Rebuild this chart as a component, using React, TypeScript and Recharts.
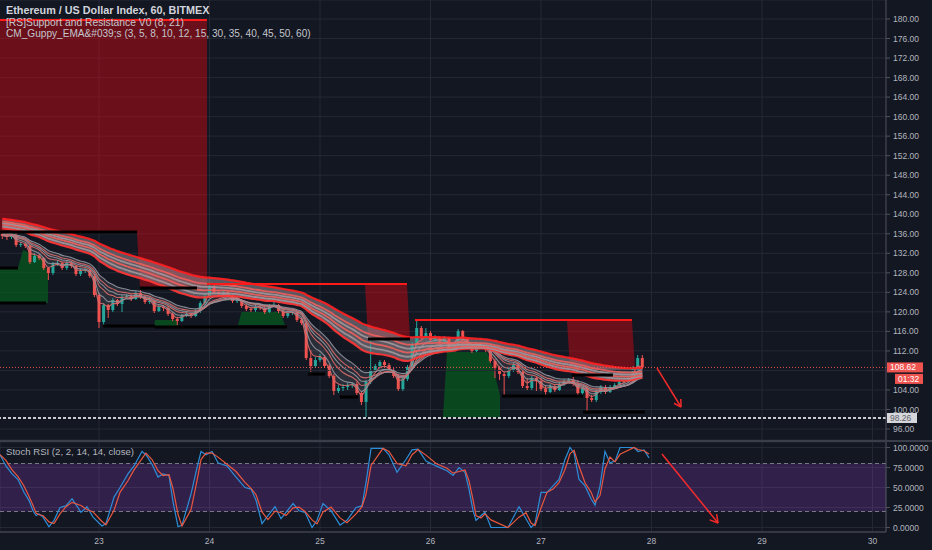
import React from 'react';
import {
  ComposedChart,
  Bar,
  Line,
  Area,
  XAxis,
  YAxis,
  CartesianGrid,
  ReferenceLine,
  ReferenceArea,
} from 'recharts';

const BG = '#131722';
const GRID = '#252935';
const AXIS = '#50535e';
const AXIS_TEXT = '#b2b5be';
const FONT = "'Liberation Sans', Arial, sans-serif";
const UP = '#26a69a';
const DOWN = '#ef5350';

// hourly candles, first one at day 22 03:00
const candleStart = 22.125;
const firstOpen = 135.95;

const closes = [
  135.54, 135.33, 135.74, 133.69, 133.9, 133.49, 130.21, 131.44, 131.03, 128.98,
  127.96, 129.8, 130.01, 128.98, 130.01, 129.39, 127.75, 128.37, 128.57, 127.34,
  123.45, 117.92, 121.4, 120.38, 122.43, 121.61, 123.04, 123.24, 122.63, 123.86,
  123.04, 122.02, 122.22, 120.17, 120.99, 120.79, 119.56, 118.53, 118.12, 119.15,
  119.56, 119.15, 120.17, 121.81, 123.24, 125.29, 124.06, 123.65, 124.06, 123.45,
  122.22, 122.43, 121.2, 120.58, 120.38, 120.99, 120.79, 119.97, 121.2, 121.4,
  120.17, 119.15, 119.76, 119.97, 118.33, 117.71, 110.54, 108.9, 110.13, 110.75,
  108.9, 106.85, 103.78, 104.4, 104.6, 105.01, 105.22, 103.37, 101.53, 105.63,
  108.08, 108.9, 109.72, 109.11, 108.08, 106.85, 104.19, 106.24, 108.7, 113.41,
  116.69, 114.85, 115.66, 114.23, 114.64, 113.82, 114.64, 112.39, 113.41, 116.07,
  114.44, 113.0, 111.98, 113.0, 112.8, 112.18, 109.93, 108.49, 107.26, 106.85,
  108.08, 109.11, 107.67, 104.81, 104.4, 106.45, 105.83, 104.19, 103.58, 104.81,
  103.99, 105.22, 105.83, 106.04, 105.22, 103.37, 104.4, 102.35, 101.94, 103.58,
  104.6, 103.58, 104.6, 105.01, 105.63, 105.83, 106.45, 108.49, 110.54, 108.62,
];

const highs = [
  136.36, 135.95, 136.15, 136.15, 134.31, 134.1, 133.69, 132.06, 131.85, 131.24,
  129.19, 130.21, 130.62, 130.21, 130.42, 130.21, 129.6, 128.98, 128.98, 128.78,
  127.75, 123.86, 121.81, 121.61, 122.83, 122.63, 123.45, 123.65, 123.65, 124.27,
  124.47, 123.45, 122.83, 122.43, 121.4, 121.4, 121.2, 119.97, 118.94, 119.56,
  119.97, 119.76, 120.58, 122.22, 123.65, 125.91, 125.71, 124.47, 124.47, 124.27,
  123.65, 123.04, 122.63, 121.61, 120.99, 121.4, 121.4, 121.2, 121.61, 122.02,
  121.61, 120.58, 120.17, 120.38, 120.17, 118.74, 118.12, 112.18, 110.75, 111.36,
  111.16, 109.31, 107.26, 105.01, 105.22, 105.42, 105.63, 105.63, 103.78, 106.04,
  114.23, 109.31, 110.13, 110.13, 109.52, 108.49, 107.26, 106.65, 109.11, 113.82,
  118.33, 117.1, 116.69, 116.07, 115.25, 115.05, 115.05, 114.85, 113.82, 116.48,
  116.28, 114.85, 113.41, 113.41, 113.62, 113.2, 112.59, 110.34, 108.9, 107.67,
  108.49, 109.52, 109.52, 108.08, 106.45, 106.85, 106.65, 106.45, 105.01, 105.22,
  105.01, 105.63, 106.24, 106.45, 106.65, 106.04, 104.81, 104.81, 102.96, 103.99,
  105.01, 105.01, 105.01, 105.42, 106.04, 106.24, 106.85, 108.9, 111.16, 111.16,
];

const lows = [
  134.92, 134.72, 134.92, 133.28, 133.28, 133.08, 129.8, 130.01, 130.62, 128.57,
  126.52, 127.55, 129.39, 128.57, 128.57, 128.98, 127.34, 127.34, 127.96, 126.93,
  123.04, 116.69, 117.3, 118.74, 119.97, 121.2, 119.97, 122.63, 122.22, 122.43,
  122.63, 121.61, 121.61, 119.76, 119.97, 120.17, 119.15, 118.12, 117.3, 117.92,
  118.94, 118.74, 118.94, 119.76, 121.4, 122.83, 123.65, 123.24, 123.24, 123.04,
  121.81, 121.81, 120.79, 120.17, 119.97, 119.97, 120.38, 119.56, 119.76, 120.99,
  119.76, 118.74, 118.74, 119.35, 117.92, 117.3, 110.13, 107.67, 108.49, 109.72,
  108.49, 106.45, 102.96, 103.37, 103.78, 103.99, 104.4, 102.96, 100.91, 98.45,
  105.22, 107.67, 108.49, 108.7, 107.67, 106.45, 103.78, 103.78, 105.83, 108.29,
  113.0, 114.44, 114.44, 113.82, 113.82, 113.41, 113.41, 111.98, 112.18, 113.0,
  114.03, 112.59, 111.57, 111.77, 112.39, 111.77, 109.52, 106.45, 106.04, 102.96,
  106.45, 107.67, 107.26, 104.4, 103.99, 103.99, 103.78, 103.78, 102.76, 103.37,
  103.58, 103.78, 104.81, 105.42, 104.81, 102.96, 102.96, 99.48, 101.53, 101.53,
  103.17, 103.17, 103.37, 104.19, 104.6, 105.22, 105.42, 105.83, 108.08, 108.29,
];

// Guppy EMA periods and their values at the left edge of the chart
const emaPeriods = [3, 5, 8, 10, 12, 15, 30, 35, 40, 45, 50, 60];
const emaSeeds = [135.7, 135.8, 135.9, 136.0, 136.1, 136.3, 137.2, 137.6, 138.0, 138.3, 138.6, 139.2];
const emaColors = ['#d46a6a', '#8f939c', '#d46a6a', '#8f939c', '#d46a6a', '#8f939c',
  '#ff3535', '#a0959b', '#ea5f5c', '#a0959b', '#ea5f5c', '#ff2020'];

// support / resistance zones: [day, low, high]
const resistZoneA = [[22.104, 136.36, 179.79], [23.344, 136.36, 179.79], [23.371, 124.88, 179.79], [23.977, 124.88, 179.79]];
const resistZoneB = [[25.407, 125.71, 125.71], [25.434, 114.64, 125.71], [25.787, 114.64, 125.71], [25.814, 114.64, 114.64]];
const resistZoneC = [[27.235, 118.33, 118.33], [27.262, 108.3, 118.33], [27.823, 108.3, 118.33], [27.851, 108.3, 108.3]];
const supportZoneA = [[22.104, 121.81, 128.98], [22.267, 121.81, 128.98], [22.312, 121.81, 132.67], [22.493, 121.81, 131.03], [22.538, 121.81, 127.55]];
const supportZoneB = [[23.498, 116.89, 116.89], [23.507, 116.89, 118.33], [23.706, 116.89, 118.33], [23.715, 116.89, 116.89]];
const supportZoneC = [[24.258, 117.3, 117.3], [24.29, 117.3, 119.97], [24.638, 117.3, 119.97], [24.683, 117.3, 117.3]];
const supportZoneD = [[26.113, 98.45, 98.45], [26.149, 98.45, 111.77], [26.511, 98.45, 111.77], [26.566, 98.45, 108.5], [26.629, 98.45, 102.96]];

// level lines: [from day, to day, price]
const blackLevels = [
  [22.104, 23.344, 136.36], [22.104, 22.267, 128.98], [22.104, 22.52, 121.81],
  [23.371, 23.887, 124.88], [23.036, 23.507, 117.1], [23.507, 24.701, 116.89],
  [25.434, 25.814, 114.44], [24.891, 25.045, 107.26], [25.181, 25.344, 102.55],
  [26.647, 27.38, 102.76], [27.38, 27.941, 99.48], [27.28, 27.651, 107.06],
];
const redLevels = [[22.104, 23.977, 179.79], [23.977, 25.787, 125.71], [25.86, 27.823, 118.33]];

const lastPrice = 108.62;
const supportPrice = 98.26;
const countdown = '01:32';

// drawn arrows: [day, value] points, shaft start, tip, then two head strokes ending at the tip
const priceArrow = [[28.05, 108.49], [28.267, 100.51], [28.265, 102.14], [28.204, 101.28]];
const stochArrow = [[28.095, 91.9], [28.602, 5.6], [28.589, 16.75], [28.526, 9.6]];

// Stoch RSI %K read at [day, value]
const stochK = [
  [22.104, 91], [22.158, 77], [22.213, 67], [22.267, 60], [22.321, 44], [22.366, 34], [22.403, 21],
  [22.43, 15], [22.457, 17], [22.493, 13], [22.547, 1], [22.593, 9], [22.647, 25], [22.701, 27],
  [22.756, 36], [22.837, 19], [22.891, 26], [22.946, 13], [23.027, 2], [23.063, 5], [23.136, 38],
  [23.19, 50], [23.262, 67], [23.317, 77], [23.389, 95], [23.425, 91], [23.48, 79], [23.534, 63],
  [23.579, 67], [23.633, 65], [23.67, 32], [23.715, 1], [23.751, 3], [23.833, 42], [23.887, 75],
  [23.923, 95], [23.968, 91], [24.023, 95], [24.077, 81], [24.158, 77], [24.24, 63], [24.321, 50],
  [24.376, 48], [24.421, 34], [24.475, 5], [24.529, 15], [24.593, 26], [24.647, 11], [24.692, 19],
  [24.756, 30], [24.81, 21], [24.864, 19], [24.928, 0], [24.973, 9], [25.027, 30], [25.1, 21],
  [25.181, 3], [25.244, 9], [25.326, 25], [25.38, 27], [25.416, 56], [25.462, 99], [25.57, 99],
  [25.624, 91], [25.697, 69], [25.778, 85], [25.833, 97], [25.887, 98], [25.959, 83], [26.05, 77],
  [26.149, 71], [26.204, 65], [26.258, 75], [26.312, 69], [26.348, 48], [26.385, 21], [26.412, 9],
  [26.457, 15], [26.493, 19], [26.547, 0], [26.701, 0], [26.801, 26], [26.864, 11], [26.91, 0],
  [26.946, 5], [27.0, 44], [27.054, 44], [27.109, 52], [27.163, 60], [27.217, 85], [27.263, 100],
  [27.299, 93], [27.344, 60], [27.398, 52], [27.453, 36], [27.489, 28], [27.534, 52], [27.579, 95],
  [27.624, 81], [27.67, 83], [27.715, 100], [27.842, 100], [27.878, 95], [27.932, 97], [27.977, 87],
];

const dayTicks = [23, 24, 25, 26, 27, 28, 29, 30];
// 108 sits under the last-price tag, so only its grid line is drawn
const priceTicks = [96, 100, 104, 112, 116, 120, 124, 128, 132, 136, 140, 144, 148, 152, 156, 160, 164, 168, 172, 176, 180];
const hiddenPriceTick = 108;
const stochTicks = [0, 25, 50, 75, 100];
const X_DOMAIN = [22.104, 30.122];

const titleText = 'Ethereum / US Dollar Index, 60, BITMEX';
const srText = '[RS]Support and Resistance V0 (8, 21)';
const guppyText = 'CM_Guppy_EMA&#039;s (3, 5, 8, 10, 12, 15, 30, 35, 40, 45, 50, 60)';
const stochText = 'Stoch RSI (2, 2, 14, 14, close)';

const candles: any[] = closes.map((c, i) => ({
  t: candleStart + i / 24,
  o: i === 0 ? firstOpen : closes[i - 1],
  h: highs[i],
  l: lows[i],
  c,
  range: [lows[i], highs[i]],
}));

emaPeriods.forEach((n, k) => {
  const a = 2 / (n + 1);
  let v = emaSeeds[k];
  candles.forEach((row) => {
    v = v + a * (row.c - v);
    row['e' + n] = v;
  });
});

const stochRows = stochK.map(([t, k], i) => ({
  t,
  k,
  d: i === 0 ? k : (k + stochK[i - 1][1]) / 2,
}));

const toZone = (pts: number[][]) => pts.map(([t, lo, hi]) => ({ t, band: [lo, hi] }));

const Candle = (props: any) => {
  const { x, y, width, height, payload } = props;
  if (!payload || y == null || height == null) return null;
  const top = Math.min(y, y + height);
  const bottom = Math.max(y, y + height);
  const span = payload.h - payload.l || 1;
  const py = (v: number) => top + ((payload.h - v) / span) * (bottom - top);
  const up = payload.c >= payload.o;
  const color = up ? UP : DOWN;
  const cx = x + width / 2;
  const bTop = py(Math.max(payload.o, payload.c));
  const bBot = py(Math.min(payload.o, payload.c));
  return (
    <g>
      <line x1={cx} x2={cx} y1={top} y2={bottom} stroke={color} strokeWidth={1} />
      <rect x={cx - 1.5} y={bTop} width={3} height={Math.max(1, bBot - bTop)} fill={color} />
    </g>
  );
};

const PriceTag = (props: any) => {
  const { viewBox, text, bg, color, sub } = props;
  if (!viewBox) return null;
  const x = viewBox.x + viewBox.width + 1;
  const y = viewBox.y;
  return (
    <g fontFamily={FONT} fontSize={8.5}>
      <rect x={x} y={y - 5} width={text.length > 5 ? 36 : 30} height={10} fill={bg} />
      <text x={x + 3} y={y} dominantBaseline="central" fill={color}>{text}</text>
      {sub && (
        <>
          <rect x={x + 8} y={y + 6.5} width={28} height={10} fill={bg} />
          <text x={x + 11} y={y + 11.5} dominantBaseline="central" fill={color}>{sub}</text>
        </>
      )}
    </g>
  );
};

const arrowLines = (pts: number[][], key: string) => {
  const [start, tip, h1, h2] = pts;
  return [start, h1, h2].map((p, i) => (
    <ReferenceLine
      key={key + i}
      segment={[{ x: p[0], y: p[1] }, { x: tip[0], y: tip[1] }]}
      stroke="#f42a2a"
      strokeWidth={1.5}
      ifOverflow="visible"
    />
  ));
};

const tickStyle = { fontSize: 8.5, fill: AXIS_TEXT, fontFamily: FONT };

const textStyle: React.CSSProperties = {
  position: 'absolute',
  left: 6,
  fontFamily: FONT,
  whiteSpace: 'nowrap',
  lineHeight: '11px',
};

export default function App() {
  const zones = [
    ...[resistZoneA, resistZoneB, resistZoneC].map((z, i) => (
      <Area key={'rz' + i} data={toZone(z)} dataKey="band" type="linear" stroke="none"
        fill="#c80a14" fillOpacity={0.49} dot={false} activeDot={false} isAnimationActive={false} />
    )),
    ...[supportZoneA, supportZoneB, supportZoneC, supportZoneD].map((z, i) => (
      <Area key={'sz' + i} data={toZone(z)} dataKey="band" type="linear" stroke="none"
        fill="#05641c" fillOpacity={0.64} dot={false} activeDot={false} isAnimationActive={false} />
    )),
  ];

  return (
    <div style={{ position: 'absolute', left: 0, top: 0, width: 932, height: 550, background: BG, overflow: 'hidden' }}>
      <ComposedChart width={932} height={440} data={candles} margin={{ top: 0, right: 0, bottom: 0, left: 0 }}>
        <CartesianGrid stroke={GRID} verticalValues={dayTicks} />
        <XAxis dataKey="t" type="number" domain={X_DOMAIN} allowDataOverflow hide />
        <YAxis
          orientation="right"
          width={46}
          domain={[93.75, 183.89]}
          allowDataOverflow
          ticks={priceTicks}
          interval={0}
          tickFormatter={(v: number) => v.toFixed(2)}
          tick={tickStyle}
          tickSize={4}
          tickMargin={3}
          axisLine={{ stroke: AXIS }}
          tickLine={{ stroke: AXIS }}
        />
        <ReferenceLine y={hiddenPriceTick} stroke={GRID} />
        {zones}
        <Area dataKey={(r: any) => [r.e30, r.e60]} type="monotone" stroke="none" fill="#958c94"
          fillOpacity={0.55} dot={false} activeDot={false} isAnimationActive={false} />
        <Area dataKey={(r: any) => [r.e3, r.e15]} type="monotone" stroke="none" fill="#8f939c"
          fillOpacity={0.18} dot={false} activeDot={false} isAnimationActive={false} />
        {emaPeriods.map((n, k) => (
          <Line key={'e' + n} dataKey={'e' + n} type="monotone" dot={false} activeDot={false}
            stroke={emaColors[k]} strokeWidth={n === 60 || n === 30 ? 2.2 : k >= 6 ? 1.8 : 1.1}
            strokeOpacity={0.92} isAnimationActive={false} />
        ))}
        {blackLevels.map(([t1, t2, p], i) => (
          <ReferenceLine key={'bl' + i} segment={[{ x: t1, y: p }, { x: t2, y: p }]} stroke="#000"
            strokeWidth={3} ifOverflow="visible" />
        ))}
        {redLevels.map(([t1, t2, p], i) => (
          <ReferenceLine key={'rl' + i} segment={[{ x: t1, y: p }, { x: t2, y: p }]} stroke="#ff1a1a"
            strokeWidth={2} ifOverflow="visible" />
        ))}
        <Bar dataKey="range" barSize={3} isAnimationActive={false} activeBar={false}
          shape={(p: any) => <Candle {...p} />} />
        <ReferenceLine y={lastPrice} stroke={DOWN} strokeDasharray="1 2"
          label={<PriceTag text={lastPrice.toFixed(2)} bg={DOWN} color="#ffffff" sub={countdown} />} />
        <ReferenceLine y={supportPrice} stroke="#c9cbd1" strokeWidth={2} strokeDasharray="3 2"
          label={<PriceTag text={supportPrice.toFixed(2)} bg="#d6d7db" color="#5d606b" />} />
        {arrowLines(priceArrow, 'pa')}
      </ComposedChart>

      <div style={{ height: 2, background: '#3a3e4a' }} />

      <ComposedChart width={932} height={108} data={stochRows} margin={{ top: 0, right: 0, bottom: 0, left: 0 }}>
        <CartesianGrid stroke={GRID} />
        <XAxis
          dataKey="t"
          type="number"
          domain={X_DOMAIN}
          allowDataOverflow
          ticks={dayTicks}
          interval={0}
          height={18}
          tickLine={false}
          tickSize={4}
          axisLine={{ stroke: AXIS }}
          tick={tickStyle}
        />
        <YAxis
          orientation="right"
          width={46}
          domain={[-5.6, 106.9]}
          allowDataOverflow
          ticks={stochTicks}
          interval={0}
          tickFormatter={(v: number) => v.toFixed(4)}
          tick={tickStyle}
          tickSize={4}
          tickMargin={3}
          axisLine={{ stroke: AXIS }}
          tickLine={{ stroke: AXIS }}
        />
        <ReferenceArea y1={20} y2={80} fill="#8a3fc4" fillOpacity={0.25} stroke="none" />
        <ReferenceLine y={80} stroke="#787b86" strokeDasharray="4 3" />
        <ReferenceLine y={20} stroke="#787b86" strokeDasharray="4 3" />
        <Line dataKey="k" type="linear" dot={false} activeDot={false} stroke="#2d8ed8" strokeWidth={1.2} isAnimationActive={false} />
        <Line dataKey="d" type="linear" dot={false} activeDot={false} stroke="#e9573f" strokeWidth={1.2} isAnimationActive={false} />
        {arrowLines(stochArrow, 'sa')}
      </ComposedChart>

      <div style={{ ...textStyle, top: 5, fontSize: 10.8, fontWeight: 700, color: '#d1d4dc' }}>{titleText}</div>
      <div style={{ ...textStyle, top: 17, fontSize: 10.3, color: '#c4c6cc' }}>{srText}</div>
      <div style={{ ...textStyle, top: 28, fontSize: 10.1, color: '#c4c6cc' }}>{guppyText}</div>
      <div style={{ ...textStyle, top: 446, fontSize: 9.6, color: AXIS_TEXT }}>{stochText}</div>
    </div>
  );
}
